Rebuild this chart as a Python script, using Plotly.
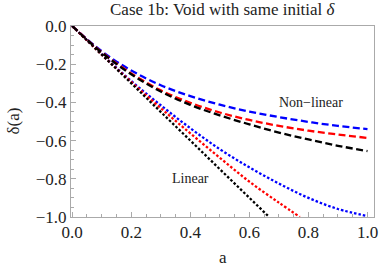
import plotly.graph_objects as go

a_grid = [0.0, 0.1, 0.2, 0.3, 0.4, 0.5, 0.6, 0.7, 0.8, 0.9, 1.0]

# Non-linear (dashed)
nl_blue = [0.0, -0.132, -0.233, -0.31, -0.367, -0.412, -0.448, -0.477, -0.502, -0.523, -0.54]
nl_red = [0.0, -0.137, -0.248, -0.337, -0.402, -0.453, -0.492, -0.523, -0.548, -0.568, -0.586]
nl_black = [0.0, -0.139, -0.253, -0.343, -0.413, -0.468, -0.515, -0.558, -0.594, -0.627, -0.655]

# Linear (dotted)
lin_blue = [0.0, -0.147, -0.288, -0.415, -0.535, -0.645, -0.74, -0.825, -0.9, -0.958, -0.995]
lin_red_a = [0.0, 0.1, 0.2, 0.3, 0.4, 0.5, 0.6, 0.7, 0.771]
lin_red = [0.0, -0.15, -0.293, -0.43, -0.562, -0.69, -0.815, -0.925, -1.0]
lin_black_a = [0.0, 0.2, 0.4, 0.6, 0.667]
lin_black = [0.0, -0.3, -0.6, -0.9, -1.0]

x_ticks = [0.0, 0.2, 0.4, 0.6, 0.8, 1.0]
x_ticklabels = ["0.0", "0.2", "0.4", "0.6", "0.8", "1.0"]
y_ticks = [0.0, -0.2, -0.4, -0.6, -0.8, -1.0]
y_ticklabels = ["0.0", "\u22120.2", "\u22120.4", "\u22120.6", "\u22120.8", "\u22121.0"]

FONT = "Liberation Serif, Times New Roman, serif"
W = 2.3
DOT = "2.5px,2px"
DASH = "7px,3.5px"

fig = go.Figure()
fig.add_trace(go.Scatter(x=a_grid, y=lin_blue, mode="lines", line=dict(color="blue", width=W, dash=DOT, shape="spline")))
fig.add_trace(go.Scatter(x=lin_red_a, y=lin_red, mode="lines", line=dict(color="red", width=W, dash=DOT, shape="spline")))
fig.add_trace(go.Scatter(x=lin_black_a, y=lin_black, mode="lines", line=dict(color="black", width=W, dash=DOT)))
for y, c in [(nl_blue, "blue"), (nl_red, "red"), (nl_black, "black")]:
    fig.add_trace(go.Scatter(x=a_grid, y=y, mode="lines", line=dict(color=c, width=W, dash=DASH, shape="spline")))

fig.add_annotation(x=0.807, y=-0.40, text="Non\u2212linear", showarrow=False,
                   font=dict(family=FONT, size=14, color="#222"))
fig.add_annotation(x=0.402, y=-0.80, text="Linear", showarrow=False,
                   font=dict(family=FONT, size=14, color="#222"))
fig.add_annotation(x=0.5, y=1.0, xref="paper", yref="paper", yanchor="middle", yshift=17,
                   text="Case 1b: Void with same initial <i>\u03b4</i>", showarrow=False,
                   font=dict(family=FONT, size=17, color="#222"))
fig.add_annotation(x=0.5, y=0, xref="paper", yref="paper", yanchor="middle", yshift=-40,
                   text="a", showarrow=False, font=dict(family=FONT, size=17, color="#222"))
fig.add_annotation(x=0, y=0.5, xref="paper", yref="paper", xanchor="center", xshift=-58,
                   text="\u03b4(a)", textangle=-90, showarrow=False,
                   font=dict(family=FONT, size=17, color="#222"))

axis_common = dict(showgrid=False, zeroline=False, showline=True, linecolor="#aaaaaa",
                   linewidth=1, mirror=True, ticks="inside", ticklen=5, tickcolor="#aaaaaa",
                   automargin=False, ticklabeloverflow="allow",
                   tickfont=dict(family=FONT, size=17, color="#222"))
fig.update_xaxes(range=[-0.004, 1.022], tickvals=x_ticks, ticktext=x_ticklabels,
                 minor=dict(ticks="inside", dtick=0.05, ticklen=3, tickcolor="#aaaaaa"),
                 **axis_common)
fig.update_yaxes(range=[-1, 0], tickvals=y_ticks, ticktext=y_ticklabels,
                 minor=dict(ticks="inside", dtick=0.05, ticklen=3, tickcolor="#aaaaaa"),
                 **axis_common)

fig.update_layout(width=382, height=266, margin=dict(l=71, r=8, t=26, b=49),
                  plot_bgcolor="white", paper_bgcolor="white", showlegend=False)
fig.write_html("out.html", config={"displayModeBar": False},
               post_script="document.body.style.margin='0';document.body.style.overflow='hidden';")
